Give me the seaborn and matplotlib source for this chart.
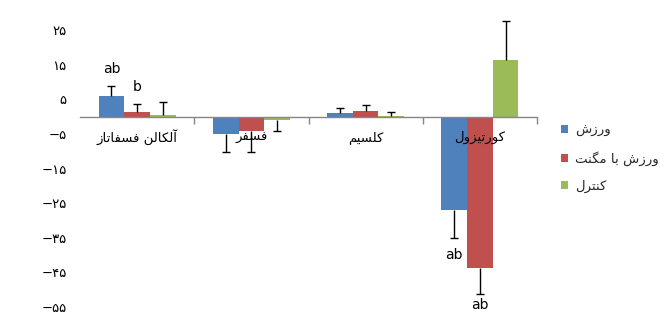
import matplotlib
matplotlib.use("Agg")
import matplotlib.pyplot as plt
import seaborn as sns
import pandas as pd
from matplotlib.patches import Patch

# ---------------- data ----------------
categories = ["آلکالن فسفاتاز", "فسفر", "کلسیم", "کورتیزول"]
series = ["ورزش", "ورزش با مگنت", "کنترل"]
exercise = [5.9, -5.1, 1.0, -27.1]
exercise_err = [2.9, 5.2, 1.5, 8.0]
magnet = [1.3, -4.2, 1.6, -43.8]
magnet_err = [2.3, 6.1, 1.9, 7.4]
control = [0.5, -1.1, 0.15, 16.3]
control_err = [3.6, 3.0, 1.25, 11.4]
ytick_values = [25, 15, 5, -5, -15, -25, -35, -45, -55]
ytick_labels = ["۲۵", "۱۵", "۵", "−۵", "−۱۵", "−۲۵", "−۳۵", "−۴۵", "−۵۵"]
# significance letters: (category index, series index, text)
sig_cat = [0, 0, 3, 3]
sig_ser = [0, 1, 0, 1]
sig_txt = ["ab", "b", "ab", "ab"]

colors = ["#4F81BD", "#C0504D", "#9BBB59"]

# ---------------- simple Persian shaping ----------------
FORMS = {  # isolated, final, initial, medial
    "ا": ("\uFE8D", "\uFE8E", None, None),
    "آ": ("\uFE81", "\uFE82", None, None),
    "ب": ("\uFE8F", "\uFE90", "\uFE91", "\uFE92"),
    "ت": ("\uFE95", "\uFE96", "\uFE97", "\uFE98"),
    "ر": ("\uFEAD", "\uFEAE", None, None),
    "ز": ("\uFEAF", "\uFEB0", None, None),
    "س": ("\uFEB1", "\uFEB2", "\uFEB3", "\uFEB4"),
    "ش": ("\uFEB5", "\uFEB6", "\uFEB7", "\uFEB8"),
    "ف": ("\uFED1", "\uFED2", "\uFED3", "\uFED4"),
    "ل": ("\uFEDD", "\uFEDE", "\uFEDF", "\uFEE0"),
    "م": ("\uFEE1", "\uFEE2", "\uFEE3", "\uFEE4"),
    "ن": ("\uFEE5", "\uFEE6", "\uFEE7", "\uFEE8"),
    "و": ("\uFEED", "\uFEEE", None, None),
    "ک": ("\uFB8E", "\uFB8F", "\uFB90", "\uFB91"),
    "گ": ("\uFB92", "\uFB93", "\uFB94", "\uFB95"),
    "ی": ("\uFBFC", "\uFBFD", "\uFBFE", "\uFBFF"),
}


def shape(text):
    out = []
    n = len(text)
    for i, ch in enumerate(text):
        if ch not in FORMS:
            out.append(ch)
            continue
        f = FORMS[ch]
        prev = text[i - 1] if i > 0 else None
        nxt = text[i + 1] if i < n - 1 else None
        jp = prev in FORMS and FORMS[prev][2] is not None
        jn = nxt in FORMS and f[2] is not None
        if jp and jn:
            out.append(f[3])
        elif jp:
            out.append(f[1])
        elif jn:
            out.append(f[2])
        else:
            out.append(f[0])
    return "".join(reversed(out))


# ---------------- frame ----------------
rows = []
vals = [exercise, magnet, control]
errs = [exercise_err, magnet_err, control_err]
for s, v in zip(series, vals):
    for c, x in zip(categories, v):
        rows.append({"cat": c, "ser": s, "val": x})
df = pd.DataFrame(rows)

sns.set_theme(style="white")
plt.rcParams["font.family"] = ["DejaVu Sans"]

fig = plt.figure(figsize=(6.66, 3.23), dpi=100)
ax = fig.add_axes([80 / 666, 0, 457 / 666, 1])

sns.barplot(data=df, x="cat", y="val", hue="ser", order=categories,
            hue_order=series, palette=colors, width=0.675, errorbar=None,
            legend=False, ax=ax, saturation=1, linewidth=0, zorder=2)

ax.set_ylim(-59.6, 33.7)
ax.set_xlim(-0.5, len(categories) - 0.5)

# error bars (one-sided, away from zero)
centers = {}
for si, (cont, err) in enumerate(zip(ax.containers, errs)):
    for ci, (bar, e) in enumerate(zip(cont.patches, err)):
        xc = bar.get_x() + bar.get_width() / 2
        h = vals[si][ci]
        centers[(ci, si)] = (xc, h, e)
        if h >= 0:
            yerr = [[0], [e]]
        else:
            yerr = [[e], [0]]
        _, caps, _ = ax.errorbar([xc], [h], yerr=yerr, fmt="none", ecolor="black",
                                 elinewidth=1, capsize=3, capthick=1, zorder=3)
        # keep only the cap at the far end
        if h >= 0:
            caps[0].set_visible(False)
        else:
            caps[1].set_visible(False)

# significance letters
for ci, si, t in zip(sig_cat, sig_ser, sig_txt):
    xc, h, e = centers[(ci, si)]
    if h >= 0:
        ax.annotate(t, xy=(xc, h + e), xytext=(0, 7), textcoords="offset points",
                    ha="center", va="bottom", fontsize=10, color="black", zorder=5)
    else:
        off = -7 if si == 0 else -3
        ax.annotate(t, xy=(xc, h - e), xytext=(0, off), textcoords="offset points",
                    ha="center", va="top", fontsize=10, color="black", zorder=5)

# axes styling
for sp in ["top", "right", "left"]:
    ax.spines[sp].set_visible(False)
ax.spines["bottom"].set_position(("data", 0))
ax.spines["bottom"].set_color("#868686")
ax.spines["bottom"].set_linewidth(1)
ax.spines["bottom"].set_zorder(2.6)

ax.set_xticks([i + 0.5 for i in range(len(categories))])
ax.set_xticklabels([])
ax.tick_params(axis="x", which="major", bottom=True, length=5, width=1,
               color="#868686", direction="out")

for i, c in enumerate(categories):
    ax.annotate(shape(c), xy=(i, 0), xytext=(0, -15), textcoords="offset points",
                ha="center", va="center", fontsize=9.5, color="black", zorder=6)

ax.set_yticks(ytick_values)
ax.set_yticklabels(ytick_labels)
ax.tick_params(axis="y", length=0, pad=9.5, labelsize=9.5, labelcolor="black")
ax.set_xlabel("")
ax.set_ylabel("")
ax.grid(False)

handles = [Patch(facecolor=col, edgecolor="none") for col in colors]
fig.legend(handles, [shape(s) for s in series], loc="upper left",
           bbox_to_anchor=(561 / 666, 1 - 124 / 323), frameon=False,
           fontsize=9.5, handlelength=0.55, handleheight=0.55,
           handletextpad=0.5, labelspacing=1.05, borderpad=0, borderaxespad=0)

fig.savefig("out.png", dpi=100)
